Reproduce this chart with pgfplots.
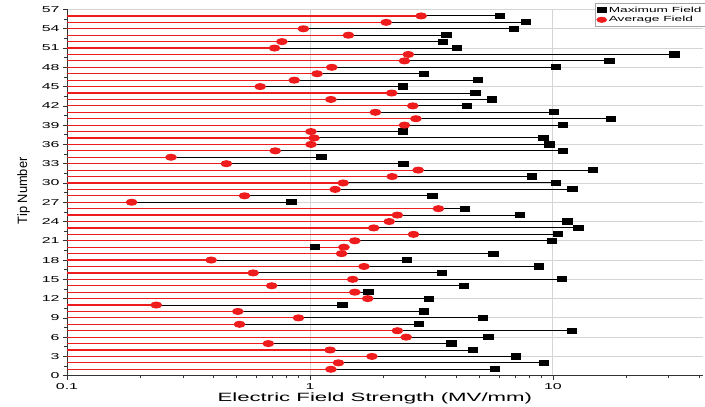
\documentclass[border=0pt]{standalone}
\usepackage{fontspec}
\setmainfont{Liberation Sans}[FakeStretch=1.85]
\newfontfamily\ylabfont{Liberation Sans}[FakeStretch=0.95]
\usepackage{pgfplots}
\usepackage{pgfplotstable}
\pgfplotsset{compat=1.18}
\definecolor{tipred}{HTML}{EE1C1C}
\definecolor{gridgray}{HTML}{D4D4D4}

% tip number, average field, maximum field (MV/mm)
\pgfplotstableread{
tip avg max
1 1.22 5.79
2 1.31 9.21
3 1.80 7.04
4 1.21 4.69
5 0.674 3.83
6 2.49 5.44
7 2.29 12.0
8 0.513 2.82
9 0.897 5.15
10 0.505 2.94
11 0.233 1.36
12 1.73 3.09
13 1.53 1.74
14 0.696 4.30
15 1.50 10.9
16 0.584 3.49
17 1.67 8.76
18 0.392 2.51
19 1.35 5.70
20 1.38 1.05
21 1.53 9.92
22 2.67 10.48
23 1.83 12.74
24 2.12 11.47
25 2.29 7.32
26 3.38 4.34
27 0.1845 0.839
28 0.538 3.20
29 1.27 12.06
30 1.37 10.3
31 2.18 8.23
32 2.79 14.6
33 0.453 2.43
34 0.268 1.115
35 0.72 10.98
36 1.01 9.69
37 1.04 9.14
38 1.01 2.41
39 2.45 10.98
40 2.73 17.3
41 1.86 10.08
42 2.65 4.44
43 1.22 5.61
44 2.17 4.80
45 0.624 2.42
46 0.862 4.91
47 1.07 2.95
48 1.23 10.3
49 2.45 17.1
50 2.54 31.7
51 0.715 4.03
52 0.767 3.54
53 1.44 3.65
54 0.94 6.93
55 2.06 7.76
56 2.87 6.07
}\tips

\begin{document}
\begin{tikzpicture}
\useasboundingbox (0pt,0pt) rectangle (705pt,407pt);
\begin{axis}[
  at={(67pt,31.3pt)}, anchor=south west,
  scale only axis, width=636pt, height=366.2pt,
  xmode=log, xmin=0.1, xmax=41.5,
  ymin=0, ymax=57,
  log origin x=infty,
  log ticks with fixed point,
  /pgf/number format/assume math mode=true,
  xtick={0.1,1,10},
  minor xtick={0.2,0.3,0.4,0.5,0.6,0.7,0.8,0.9,2,3,4,5,6,7,8,9,20,30,40},
  ytick={0,3,...,57}, minor y tick num=1,
  axis x line*=bottom, axis y line*=left,
  axis line style={-, black!80, line width=0.8pt},
  tick align=outside,
  major tick length=4pt, minor tick length=2.5pt,
  tick style={black!80, line width=0.7pt},
  grid=major, major grid style={gridgray, line width=0.8pt},
  tick label style={font=\fontsize{8.6}{9}\selectfont},
  xlabel={Electric Field Strength (MV/mm)},
  xlabel style={font=\fontsize{12}{13}\selectfont, at={(axis description cs:0.484,-0.062)}, anchor=center},
  ylabel={\ylabfont Tip Number},
  ylabel style={font=\fontsize{13.5}{14}\selectfont, at={(axis description cs:-0.068,0.505)}, anchor=center},
  legend style={at={(axis description cs:1.0031,1.017)}, anchor=north east,
    draw=gray!70, fill=white, font=\fontsize{7.4}{8.2}\selectfont,
    inner sep=1.2pt, row sep=-1.2pt},
  legend cell align=left,
  clip=false,
]
\addlegendimage{only marks, black, mark=square*, mark size=2.5pt, mark options={xscale=1.8}}
\addlegendentry{Maximum Field}
\addlegendimage{only marks, tipred, mark=*, mark size=2.8pt, mark options={xscale=1.8}}
\addlegendentry{Average Field}
\addplot[black, line width=1pt, xcomb, mark=square*, mark size=2.6pt,
  mark options={xscale=1.8}, forget plot] table[x=max, y=tip] {\tips};
\addplot[tipred, line width=1.2pt, xcomb, mark=*, mark size=2.9pt,
  mark options={xscale=1.8}, forget plot] table[x=avg, y=tip] {\tips};
\end{axis}
\end{tikzpicture}
\end{document}
